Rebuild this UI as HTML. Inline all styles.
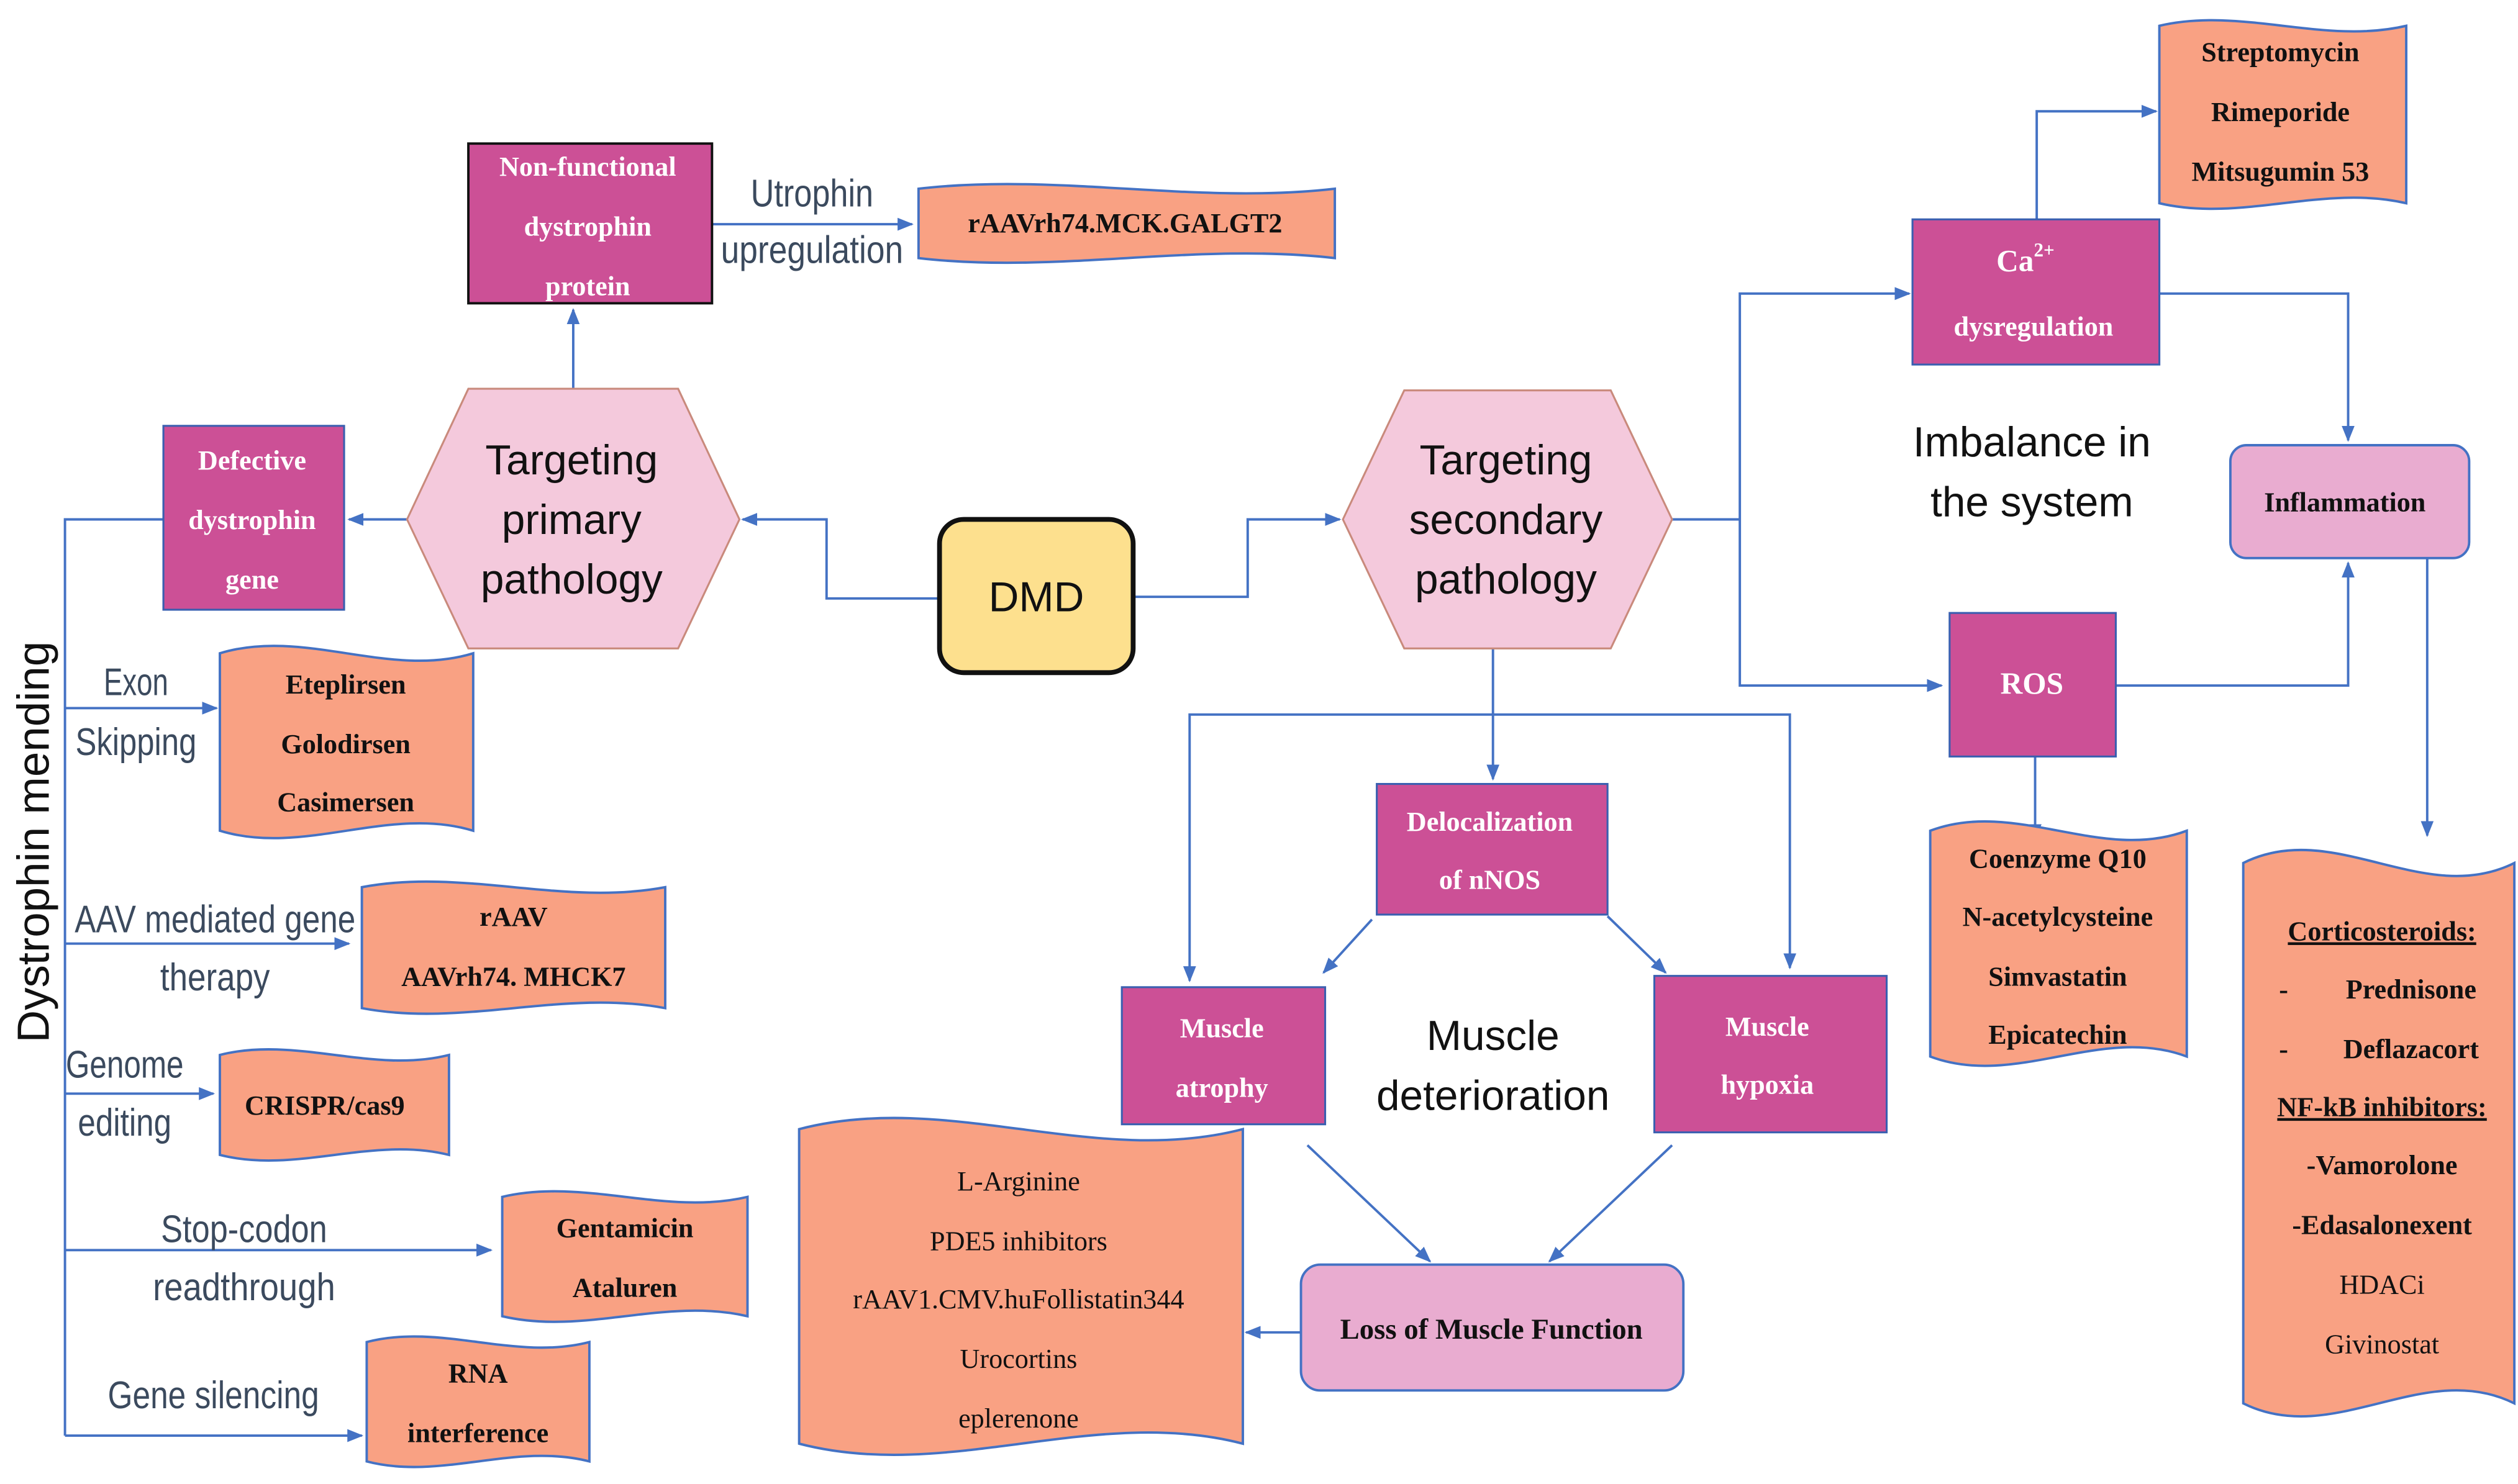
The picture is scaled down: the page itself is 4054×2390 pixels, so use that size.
<!DOCTYPE html>
<html><head><meta charset="utf-8"><style>
html,body{margin:0;padding:0;background:#fff}
svg{display:block}
.b{font-family:"Liberation Serif",serif;font-weight:bold;font-size:17px;fill:#fff;text-anchor:middle}
.d{font-family:"Liberation Serif",serif;font-weight:bold;font-size:17px;fill:#111;text-anchor:middle}
.l{font-family:"Liberation Sans",sans-serif;font-size:24px;fill:#3b4a5e;text-anchor:middle}
.h{font-family:"Liberation Sans",sans-serif;font-size:26px;fill:#111;text-anchor:middle}
.w{fill:#f9a183;stroke:#4472c4;stroke-width:1.5}
.m{fill:#cc5096;stroke:#3a5fb0;stroke-width:1.2}
.c{fill:none;stroke:#4472c4;stroke-width:1.5}
</style></head><body>
<svg width="4054" height="2390" viewBox="0 0 1560 920" xmlns="http://www.w3.org/2000/svg">
<defs><marker id="a" markerWidth="10" markerHeight="10" refX="9" refY="5" orient="auto" markerUnits="userSpaceOnUse"><path d="M0,1 L10,5 L0,9Z" fill="#4472c4"/></marker></defs>

<g class="c" marker-end="url(#a)">
<path d="M441 139 H565"/>
<path d="M355 241 V192"/>
<path d="M252 322 H216"/>
<path d="M582 371 H512 V322 H460"/>
<path d="M702 370 H773 V322 H830"/>
<path d="M40 439 H134"/>
<path d="M40 585 H216"/>
<path d="M40 678 H132"/>
<path d="M40 775 H304"/>
<path d="M40 890 H224"/>
<path d="M1078 322 V182 H1183"/>
<path d="M1078 322 V425 H1203"/>
<path d="M1262 136 V69 H1336"/>
<path d="M1338 182 H1455 V273"/>
<path d="M1311 425 H1455 V349"/>
<path d="M1261 469 V520"/>
<path d="M1504 346 V518"/>
<path d="M925 443 H737 V608"/>
<path d="M925 402 V483"/>
<path d="M925 443 H1109 V600"/>
<path d="M850 570 L820 603"/>
<path d="M996 568 L1032 603"/>
<path d="M810 710 L886 782"/>
<path d="M1036 710 L960 782"/>
<path d="M806 826 H772"/>
</g>
<path class="c" d="M1036 322 H1078"/>
<path class="c" d="M101 322 H40 V890"/>

<path class="w" d="M569 117 C655 107 741 127 827 117 L827 160 C741 150 655 170 569 160Z"/>
<path class="w" d="M136 405 C188 389 241 421 293 405 L293 515 C241 499 188 531 136 515Z"/>
<path class="w" d="M224 550 C287 538 349 562 412 550 L412 625 C349 613 287 637 224 625Z"/>
<path class="w" d="M136 654 C183 642 231 666 278 654 L278 716 C231 704 183 728 136 716Z"/>
<path class="w" d="M311 742 C362 730 412 754 463 742 L463 816 C412 804 362 828 311 816Z"/>
<path class="w" d="M227 832 C273 820 319 844 365 832 L365 906 C319 894 273 918 227 906Z"/>
<path class="w" d="M1338 16 C1389 4 1440 28 1491 16 L1491 126 C1440 114 1389 138 1338 126Z"/>
<path class="w" d="M1196 515 C1249 495 1302 535 1355 515 L1355 655 C1302 635 1249 675 1196 655Z"/>
<path class="w" d="M1390 535 C1446 507 1502 563 1558 535 L1558 870 C1502 842 1446 898 1390 870Z"/>
<path class="w" d="M495 700 C587 676 678 724 770 700 L770 895 C678 871 587 919 495 895Z"/>

<rect x="290" y="89" width="151" height="99" fill="#cc5096" stroke="#111" stroke-width="1.5"/>
<rect class="m" x="101" y="264" width="112" height="114"/>
<rect class="m" x="1185" y="136" width="153" height="90"/>
<rect class="m" x="1208" y="380" width="103" height="89"/>
<rect class="m" x="853" y="486" width="143" height="81"/>
<rect class="m" x="695" y="612" width="126" height="85"/>
<rect class="m" x="1025" y="605" width="144" height="97"/>
<rect x="1382" y="276" width="148" height="70" rx="10" fill="#e9acd0" stroke="#4472c4" stroke-width="1.5"/>
<rect x="806" y="784" width="237" height="78" rx="12" fill="#e9acd0" stroke="#4472c4" stroke-width="1.5"/>

<polygon points="252,322 290,241 420,241 458,322 420,402 290,402" fill="#f4c9dc" stroke="#c98a7c" stroke-width="1.2"/>
<polygon points="832,322 870,242 998,242 1036,322 998,402 870,402" fill="#f4c9dc" stroke="#c98a7c" stroke-width="1.2"/>
<rect x="582" y="322" width="120" height="95" rx="15" fill="#fde08e" stroke="#111" stroke-width="3"/>

<text class="b" x="364" y="109">Non-functional</text>
<text class="b" x="364" y="146">dystrophin</text>
<text class="b" x="364" y="183">protein</text>
<text class="l" x="503" y="128" textLength="76" lengthAdjust="spacingAndGlyphs">Utrophin</text>
<text class="l" x="503" y="163" textLength="113" lengthAdjust="spacingAndGlyphs">upregulation</text>
<text class="d" x="697" y="144">rAAVrh74.MCK.GALGT2</text>
<text class="b" x="156" y="291">Defective</text>
<text class="b" x="156" y="328">dystrophin</text>
<text class="b" x="156" y="365">gene</text>
<text class="h" x="354" y="294">Targeting</text>
<text class="h" x="354" y="331">primary</text>
<text class="h" x="354" y="368">pathology</text>
<text class="h" x="933" y="294">Targeting</text>
<text class="h" x="933" y="331">secondary</text>
<text class="h" x="933" y="368">pathology</text>
<text class="h" x="642" y="379">DMD</text>
<text class="h" x="0" y="0" transform="translate(30 522) rotate(-90)" style="font-size:28px">Dystrophin mending</text>

<text class="l" x="84" y="431" textLength="40" lengthAdjust="spacingAndGlyphs">Exon</text>
<text class="l" x="84" y="468" textLength="75" lengthAdjust="spacingAndGlyphs">Skipping</text>
<text class="d" x="214" y="430">Eteplirsen</text>
<text class="d" x="214" y="467">Golodirsen</text>
<text class="d" x="214" y="503">Casimersen</text>
<text class="l" x="133" y="578" textLength="174" lengthAdjust="spacingAndGlyphs">AAV mediated gene</text>
<text class="l" x="133" y="614" textLength="68" lengthAdjust="spacingAndGlyphs">therapy</text>
<text class="d" x="318" y="574">rAAV</text>
<text class="d" x="318" y="611">AAVrh74. MHCK7</text>
<text class="l" x="77" y="668" textLength="73" lengthAdjust="spacingAndGlyphs">Genome</text>
<text class="l" x="77" y="704" textLength="58" lengthAdjust="spacingAndGlyphs">editing</text>
<text class="d" x="201" y="691">CRISPR/cas9</text>
<text class="l" x="151" y="770" textLength="103" lengthAdjust="spacingAndGlyphs">Stop-codon</text>
<text class="l" x="151" y="806" textLength="113" lengthAdjust="spacingAndGlyphs">readthrough</text>
<text class="d" x="387" y="767">Gentamicin</text>
<text class="d" x="387" y="804">Ataluren</text>
<text class="l" x="132" y="873" textLength="131" lengthAdjust="spacingAndGlyphs">Gene silencing</text>
<text class="d" x="296" y="857">RNA</text>
<text class="d" x="296" y="894">interference</text>

<text class="b" x="1255" y="168" style="font-size:19px">Ca<tspan dy="-9" style="font-size:12px">2+</tspan></text>
<text class="b" x="1260" y="208">dysregulation</text>
<text class="d" x="1413" y="38">Streptomycin</text>
<text class="d" x="1413" y="75">Rimeporide</text>
<text class="d" x="1413" y="112">Mitsugumin 53</text>
<text class="h" x="1259" y="283">Imbalance in</text>
<text class="h" x="1259" y="320">the system</text>
<text class="d" x="1453" y="317">Inflammation</text>
<text class="b" x="1259" y="430" style="font-size:19px">ROS</text>
<text class="d" x="1275" y="538">Coenzyme Q10</text>
<text class="d" x="1275" y="574">N-acetylcysteine</text>
<text class="d" x="1275" y="611">Simvastatin</text>
<text class="d" x="1275" y="647">Epicatechin</text>
<text class="d" x="1476" y="583" text-decoration="underline">Corticosteroids:</text>
<text class="d" x="1415" y="619">-</text><text class="d" x="1494" y="619">Prednisone</text>
<text class="d" x="1415" y="656">-</text><text class="d" x="1494" y="656">Deflazacort</text>
<text class="d" x="1476" y="692" text-decoration="underline">NF-kB inhibitors:</text>
<text class="d" x="1476" y="728">-Vamorolone</text>
<text class="d" x="1476" y="765">-Edasalonexent</text>
<text class="d" x="1476" y="802" style="font-weight:normal">HDACi</text>
<text class="d" x="1476" y="839" style="font-weight:normal">Givinostat</text>

<text class="b" x="923" y="515">Delocalization</text>
<text class="b" x="923" y="551">of nNOS</text>
<text class="b" x="757" y="643">Muscle</text>
<text class="b" x="757" y="680">atrophy</text>
<text class="h" x="925" y="651">Muscle</text>
<text class="h" x="925" y="688">deterioration</text>
<text class="b" x="1095" y="642">Muscle</text>
<text class="b" x="1095" y="678">hypoxia</text>
<text class="d" x="924" y="830" style="font-size:18px">Loss of Muscle Function</text>
<text class="d" x="631" y="738" style="font-weight:normal">L-Arginine</text>
<text class="d" x="631" y="775" style="font-weight:normal">PDE5 inhibitors</text>
<text class="d" x="631" y="811" style="font-weight:normal">rAAV1.CMV.huFollistatin344</text>
<text class="d" x="631" y="848" style="font-weight:normal">Urocortins</text>
<text class="d" x="631" y="885" style="font-weight:normal">eplerenone</text>
</svg>
</body></html>
